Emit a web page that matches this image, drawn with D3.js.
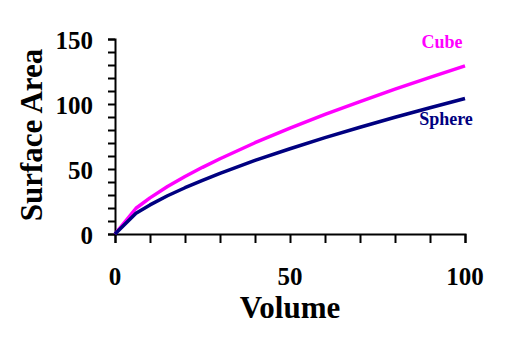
<!DOCTYPE html>
<html><head><meta charset="utf-8">
<script src="https://cdn.jsdelivr.net/npm/d3@7"></script>
<style>body{margin:0;background:#fff}svg{display:block}</style>
</head><body>
<script>
const volumes = [0, 6, 10, 15, 20, 25, 30, 40, 50, 60, 70, 80, 90, 100];
const cubeArea = [0, 19.8, 27.8, 36.5, 44.2, 51.3, 57.9, 70.2, 81.4, 92.0, 101.9, 111.4, 120.5, 129.3];
const sphereArea = [0, 16.0, 22.4, 29.4, 35.6, 41.3, 46.7, 56.6, 65.6, 74.1, 82.1, 89.8, 97.1, 104.2];
const seriesNames = ["Cube", "Sphere"];
const xTickLabels = [0, 50, 100];
const yTickLabels = [0, 50, 100, 150];

const W = 505, H = 341;
const svg = d3.select("body").append("svg").attr("width", W).attr("height", H);
const font = "'Liberation Serif','Times New Roman',serif";

const x = d3.scaleLinear().domain([0, 100]).range([115, 465]);
const y = d3.scaleLinear().domain([0, 150]).range([234, 39]);

// axes
const xAxis = d3.axisBottom(x).tickValues(d3.range(0, 101, 10)).tickSize(9).tickFormat("");
const gx = svg.append("g").attr("transform", `translate(0,${y(0)})`).call(xAxis);
const yAxis = d3.axisLeft(y).tickValues(d3.range(0, 151, 10)).tickSize(7).tickFormat("");
const gy = svg.append("g").attr("transform", `translate(${x(0)},0)`).call(yAxis);
[gx, gy].forEach(g => {
  g.select(".domain").attr("stroke", "#000").attr("stroke-width", 2);
  g.selectAll(".tick line").attr("stroke", "#000").attr("stroke-width", 2);
});

// tick labels
svg.append("g").selectAll("text").data(xTickLabels).join("text")
  .attr("x", d => x(d)).attr("y", 285)
  .attr("text-anchor", "middle")
  .attr("font-family", font).attr("font-weight", "bold").attr("font-size", 25)
  .text(d => d);
svg.append("g").selectAll("text").data(yTickLabels).join("text")
  .attr("x", 93).attr("y", d => y(d) + 10)
  .attr("text-anchor", "end")
  .attr("font-family", font).attr("font-weight", "bold").attr("font-size", 25)
  .text(d => d);

// axis titles
svg.append("text").attr("x", 290).attr("y", 318).attr("text-anchor", "middle")
  .attr("font-family", font).attr("font-weight", "bold").attr("font-size", 31)
  .text("Volume");
svg.append("text").attr("transform", "translate(42,135) rotate(-90)").attr("text-anchor", "middle")
  .attr("font-family", font).attr("font-weight", "bold").attr("font-size", 31)
  .text("Surface Area");

// lines
const line = d3.line().x(d => x(d[0])).y(d => y(d[1]));
const series = [
  {name: seriesNames[0], vals: cubeArea, color: "#FF00FF"},
  {name: seriesNames[1], vals: sphereArea, color: "#000080"}
];
series.forEach(s => {
  svg.append("path").datum(volumes.map((v, i) => [v, s.vals[i]]))
    .attr("d", line).attr("fill", "none").attr("stroke", s.color)
    .attr("stroke-width", 3.5).attr("stroke-linejoin", "round");
});

// series labels
svg.append("text").attr("x", 442).attr("y", 48).attr("text-anchor", "middle")
  .attr("font-family", font).attr("font-weight", "bold").attr("font-size", 18)
  .attr("fill", "#FF00FF").text(seriesNames[0]);
svg.append("text").attr("x", 446).attr("y", 125).attr("text-anchor", "middle")
  .attr("font-family", font).attr("font-weight", "bold").attr("font-size", 18)
  .attr("fill", "#000080").text(seriesNames[1]);
</script>
</body></html>
